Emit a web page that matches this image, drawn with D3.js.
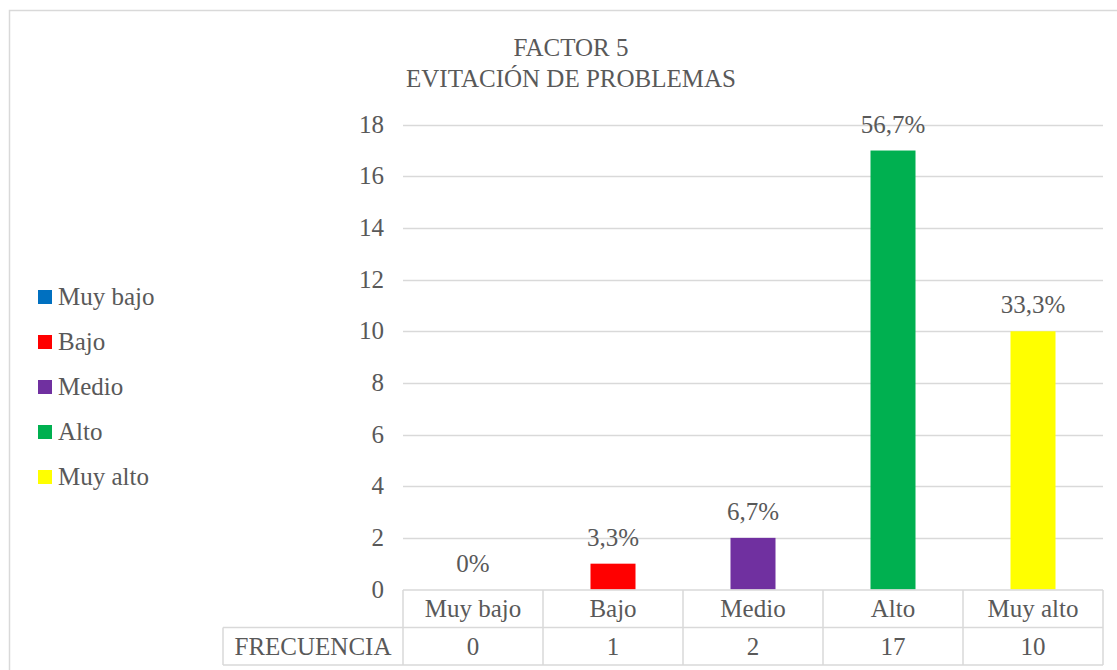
<!DOCTYPE html>
<head>
  <meta charset="utf-8">
  <script src="https://d3js.org/d3.v7.min.js"></script>
  <style>
    body { margin:0; background:#fff; }
    svg { display:block; }
    svg text { font-family: "Times New Roman", "Liberation Serif", serif; fill:#595959; font-size:25px; }
  </style>
</head>
<body>
<script>
  var categories = ["Muy bajo", "Bajo", "Medio", "Alto", "Muy alto"];
  var frecuencia = [0, 1, 2, 17, 10];
  var percentLabels = ["0%", "3,3%", "6,7%", "56,7%", "33,3%"];
  var colors = ["#0070C0", "#FF0000", "#7030A0", "#00B050", "#FFFF00"];
  var yTicks = [0, 2, 4, 6, 8, 10, 12, 14, 16, 18];

  var width = 1117, height = 670;
  var svg = d3.select("body").append("svg")
    .attr("width", width).attr("height", height);

  // chart frame
  svg.append("rect")
    .attr("x", 9.5).attr("y", 10.5)
    .attr("width", 1120).attr("height", 680)
    .attr("fill", "none").attr("stroke", "#d9d9d9").attr("stroke-width", 1.5);

  svg.append("text").attr("x", 571).attr("y", 56)
    .attr("text-anchor", "middle").text("FACTOR 5");
  svg.append("text").attr("x", 571).attr("y", 87)
    .attr("text-anchor", "middle").text("EVITACIÓN DE PROBLEMAS");

  var x = d3.scaleBand().domain(categories).range([403, 1103]);
  var y = d3.scaleLinear().domain([0, 18]).range([589.5, 124.7]);

  // gridlines
  svg.selectAll("line.grid")
    .data(yTicks.filter(function(d) { return d > 0; }))
    .enter().append("line")
    .attr("class", "grid")
    .attr("x1", 403).attr("x2", 1103)
    .attr("y1", function(d) { return Math.round(y(d)) + 0.5; })
    .attr("y2", function(d) { return Math.round(y(d)) + 0.5; })
    .attr("stroke", "#d9d9d9").attr("stroke-width", 1.5);

  svg.selectAll("text.ytick")
    .data(yTicks).enter().append("text")
    .attr("class", "ytick")
    .attr("x", 384).attr("y", function(d) { return y(d) + 8; })
    .attr("text-anchor", "end")
    .text(function(d) { return d; });

  // bars
  var bw = 45;
  svg.selectAll("rect.bar")
    .data(frecuencia).enter().append("rect")
    .attr("class", "bar")
    .attr("x", function(d, i) { return x(categories[i]) + x.bandwidth() / 2 - bw / 2; })
    .attr("y", function(d) { return y(d); })
    .attr("width", bw)
    .attr("height", function(d) { return y(0) - y(d); })
    .attr("fill", function(d, i) { return colors[i]; });

  svg.selectAll("text.lbl")
    .data(frecuencia).enter().append("text")
    .attr("class", "lbl")
    .attr("x", function(d, i) { return x(categories[i]) + x.bandwidth() / 2; })
    .attr("y", function(d) { return y(d) - 18; })
    .attr("text-anchor", "middle")
    .text(function(d, i) { return percentLabels[i]; });

  // data table
  var tbl = svg.append("g");
  var r0 = 590, r1 = 627.5, r2 = 665;
  var lineColor = "#d9d9d9";
  function hline(x1, x2, yy) {
    tbl.append("line").attr("x1", x1).attr("x2", x2).attr("y1", yy).attr("y2", yy)
      .attr("stroke", lineColor).attr("stroke-width", 1.5);
  }
  function vline(xx, y1, y2) {
    tbl.append("line").attr("x1", xx).attr("x2", xx).attr("y1", y1).attr("y2", y2)
      .attr("stroke", lineColor).attr("stroke-width", 1.5);
  }
  hline(403, 1103, r0);
  hline(223, 1103, r1);
  hline(223, 1103, r2);
  vline(223, r1, r2);
  vline(403, r0, r2);
  categories.forEach(function(c) { vline(x(c) + x.bandwidth(), r0, r2); });

  tbl.selectAll("text.cat").data(categories).enter().append("text")
    .attr("x", function(d) { return x(d) + x.bandwidth() / 2; })
    .attr("y", 617).attr("text-anchor", "middle")
    .text(function(d) { return d; });
  tbl.selectAll("text.val").data(frecuencia).enter().append("text")
    .attr("x", function(d, i) { return x(categories[i]) + x.bandwidth() / 2; })
    .attr("y", 655).attr("text-anchor", "middle")
    .text(function(d) { return d; });
  tbl.append("text").attr("x", 313).attr("y", 655)
    .attr("text-anchor", "middle").text("FRECUENCIA");

  // legend
  var leg = svg.selectAll("g.leg").data(categories).enter().append("g")
    .attr("class", "leg")
    .attr("transform", function(d, i) { return "translate(38," + (297 + i * 45) + ")"; });
  leg.append("rect").attr("x", 0).attr("y", -7).attr("width", 14).attr("height", 14)
    .attr("fill", function(d, i) { return colors[i]; });
  leg.append("text").attr("x", 20).attr("y", 8)
    .text(function(d) { return d; });
</script>
</body>
